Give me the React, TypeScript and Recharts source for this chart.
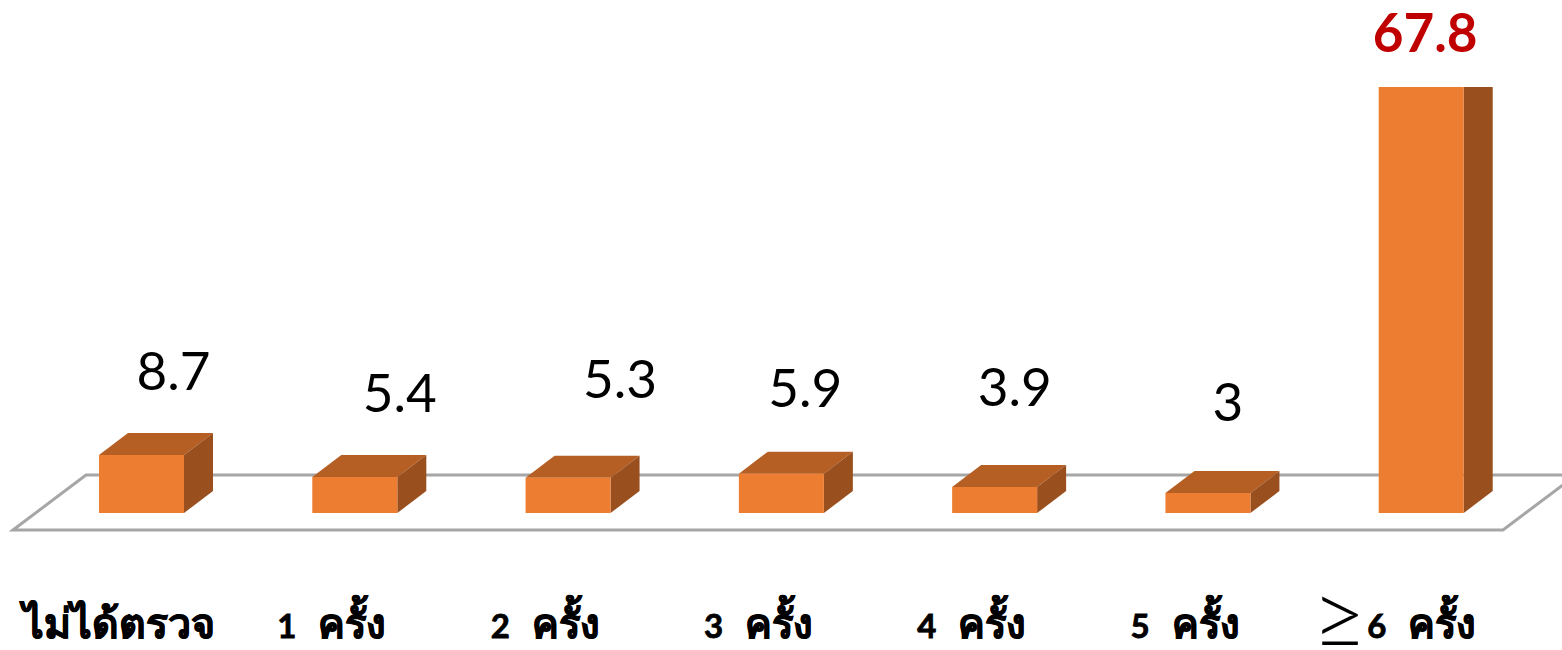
import { Bar, BarChart, Customized, LabelList, XAxis, YAxis } from "recharts"

const categories = ["ไม่ได้ตรวจ", "1 ครั้ง", "2 ครั้ง", "3 ครั้ง", "4 ครั้ง", "5 ครั้ง", "6 ครั้ง"]
const values = [8.7, 5.4, 5.3, 5.9, 3.9, 3, 67.8]

const data = categories.map((name, i) => ({ name, value: values[i] }))

// labels were dragged by hand in the original, so each one has its own nudge
const labelNudge = [
  [32, -65],
  [45, -65],
  [52, -80],
  [24, -67],
  [20, -81],
  [20, -72],
  [4, -9],
]

const FONT = "Lato, 'Noto Sans', sans-serif"
const DEPTH_X = 29
const DEPTH_Y = 22

function Block({ x, y, width, height }: any) {
  const r = x + width
  const b = y + height
  return (
    <g>
      <polygon points={`${x},${y} ${r},${y} ${r + DEPTH_X},${y - DEPTH_Y} ${x + DEPTH_X},${y - DEPTH_Y}`} fill="#B55F24" />
      <polygon points={`${r},${y} ${r + DEPTH_X},${y - DEPTH_Y} ${r + DEPTH_X},${b - DEPTH_Y} ${r},${b}`} fill="#9A4F1E" />
      <rect x={x} y={y} width={width} height={height} fill="#ED7D31" />
    </g>
  )
}

function Floor() {
  return (
    <polygon
      points="13,530 86,475 1576,475 1503,530"
      fill="none"
      stroke="#A6A6A6"
      strokeWidth={3}
    />
  )
}

function CategoryTick({ x, y, payload, index }: any) {
  const parts = String(payload.value).split(" ")
  const last = index === categories.length - 1
  return (
    <text
      x={x - (last ? 27 : 23)}
      y={y}
      textAnchor="middle"
      fontFamily={FONT}
      fontWeight={700}
      fontSize={index === 0 ? 41 : 40}
      fill="#000"
      stroke="#000"
      strokeWidth={0.8}
    >
      {last && (
        <tspan fontSize={95} fontWeight={300} stroke="none" dy={11}>
          {"≥"}
        </tspan>
      )}
      {parts.length > 1 ? (
        <>
          <tspan fontSize={33} dy={last ? -11 : 0}>{parts[0]}</tspan>
          <tspan dx={22}>{parts[1]}</tspan>
        </>
      ) : (
        payload.value
      )}
    </text>
  )
}

function ValueLabel({ x, y, width, value, index }: any) {
  const [dx, dy] = labelNudge[index]
  const top = index === values.length - 1
  return (
    <text
      x={x + width / 2 + dx}
      y={y + dy}
      textAnchor="middle"
      fontFamily={FONT}
      fontSize={53}
      fontWeight={top ? 700 : 400}
      fill={top ? "#C00000" : "#000"}
    >
      {value}
    </text>
  )
}

export default function App() {
  return (
    <div style={{ position: "absolute", left: 0, top: 0, width: 1562, height: 650 }}>
      <BarChart
        width={1562}
        height={650}
        data={data}
        margin={{ top: 87, right: 34, bottom: 0, left: 35 }}
      >
        <XAxis
          dataKey="name"
          axisLine={false}
          tickLine={false}
          interval={0}
          height={137}
          tick={<CategoryTick />}
          tickMargin={119}
        />
        <YAxis hide domain={[0, 63.9]} allowDataOverflow />
        <Customized component={Floor} />
        <Bar dataKey="value" barSize={85} shape={<Block />} isAnimationActive={false}>
          <LabelList dataKey="value" content={<ValueLabel />} />
        </Bar>
      </BarChart>
    </div>
  )
}
